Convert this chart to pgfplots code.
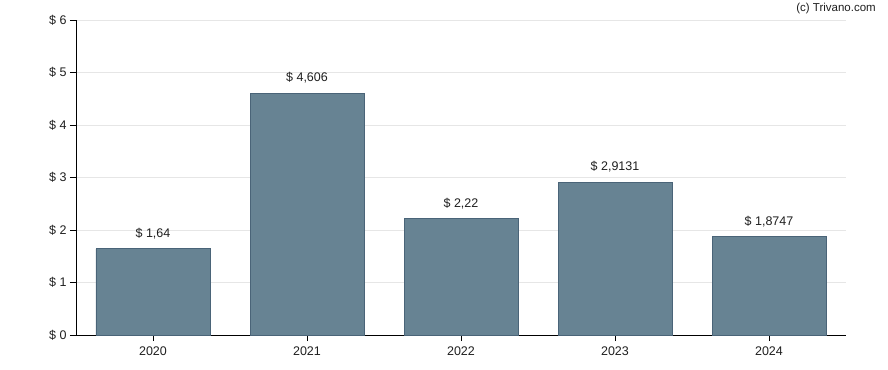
\documentclass[border=0pt]{standalone}
\usepackage{fontspec}
\setmainfont{Liberation Sans}
\usepackage{pgfplots}
\pgfplotsset{compat=1.18}
\definecolor{barfill}{RGB}{103,131,147}
\definecolor{barline}{RGB}{74,100,120}
\definecolor{gridc}{RGB}{230,230,230}
\begin{document}
\begin{tikzpicture}
\begin{axis}[
  scale only axis,
  width=770bp, height=315bp,
  xmin=-0.5, xmax=4.5, ymin=0, ymax=6,
  axis x line*=bottom, axis y line*=left,
  axis line style={black, line width=0.8bp},
  xtick=data,
  xticklabels={2020,2021,2022,2023,2024},
  ytick={0,1,2,3,4,5,6},
  yticklabels={\$ 0,\$ 1,\$ 2,\$ 3,\$ 4,\$ 5,\$ 6},
  tick align=outside,
  major tick length=6bp,
  tick style={black, line width=0.8bp},
  ymajorgrids, grid style={gridc, line width=0.6bp},
  xmajorgrids=false,
  ticklabel style={font=\fontsize{12.5bp}{14bp}\selectfont, text=black!88},
  yticklabel style={xshift=0bp},
  xticklabel style={yshift=-2bp},
  ybar, bar width=114bp,
  nodes near coords,
  point meta=explicit symbolic,
  every node near coord/.append style={font=\fontsize{12.5bp}{14bp}\selectfont, text=black!88, yshift=6bp},
  clip=false,
]
\addplot[fill=barfill, draw=barline, line width=0.8bp] table[meta=lab] {
x y lab
0 1.64 {\$ 1,64}
1 4.606 {\$ 4,606}
2 2.22 {\$ 2,22}
3 2.9131 {\$ 2,9131}
4 1.8747 {\$ 1,8747}
};
\coordinate (ll) at (rel axis cs:0,0);
\end{axis}
\pgfresetboundingbox
\path (ll) ++(-76bp,-35bp) coordinate (bl) rectangle ++(888bp,370bp) coordinate (tr);
\node[anchor=north east, font=\fontsize{11.5bp}{13bp}\selectfont, text=black!88, inner sep=0pt] at ([xshift=-12bp,yshift=-3bp]tr) {(c) Trivano.com};
\end{tikzpicture}
\end{document}
